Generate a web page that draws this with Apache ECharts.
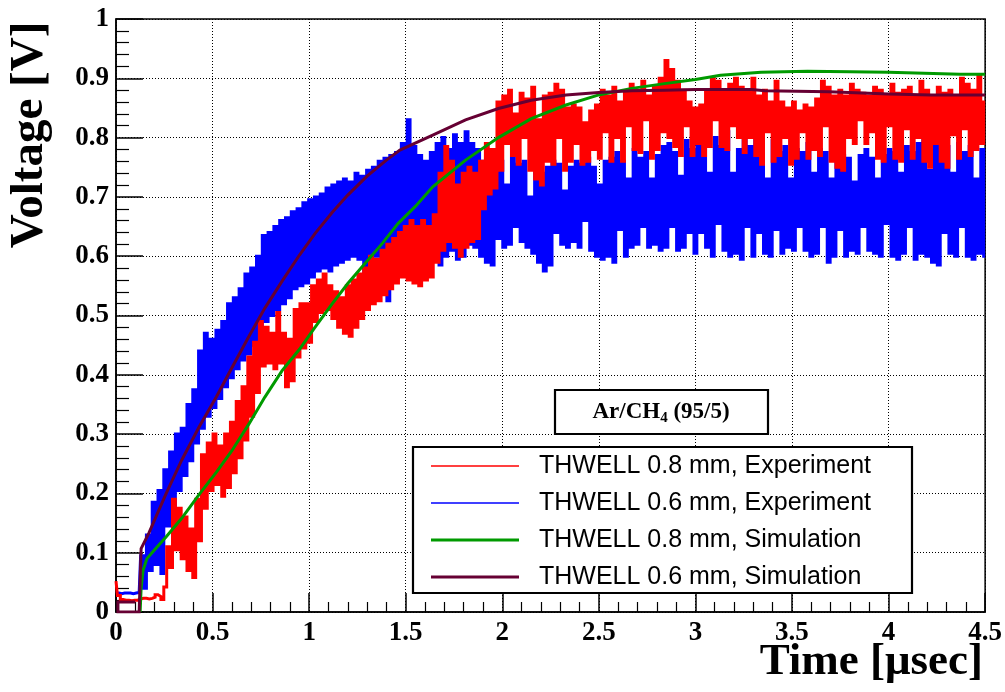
<!DOCTYPE html>
<html>
<head>
<meta charset="utf-8">
<title>THWELL signal</title>
<script src="https://cdn.jsdelivr.net/npm/echarts@6/dist/echarts.min.js"></script>
<style>
  html, body { margin: 0; padding: 0; background: #fff; }
  #chart { width: 1005px; height: 692px; }
</style>
</head>
<body>
<div id="chart"></div>
<script>
// Oscilloscope traces, sampled every SAMPLE_STEP microseconds, values in mV
const SAMPLE_STEP = 0.015;

const exp08mV = [
  52,28,21,20,20,19,20,20,22,23,
  23,22,23,25,29,26,21,42,110,75,
  190,105,175,90,160,70,140,58,190,120,
  265,175,285,205,300,215,280,195,300,210,
  320,235,355,260,380,290,430,330,455,370,
  490,415,480,420,470,410,505,420,470,380,
  460,390,510,430,520,445,520,455,550,490,
  560,505,570,510,550,495,540,480,530,470,
  550,465,560,480,570,495,580,510,600,520,
  595,525,610,535,620,545,630,555,640,565,
  650,560,660,555,650,550,660,560,650,565,
  670,590,740,610,785,625,760,615,720,600,
  740,615,750,625,740,630,760,680,790,705,
  780,715,860,745,870,790,880,770,840,755,
  875,800,865,745,885,730,830,720,870,760,
  875,755,890,800,880,745,850,760,855,790,
  850,755,825,760,845,780,855,765,880,810,
  870,760,885,800,860,760,875,820,890,780,
  880,775,895,830,870,765,885,780,900,810,
  930,800,915,785,895,770,880,820,860,770,
  850,790,855,770,880,785,900,830,895,785,
  880,780,890,820,900,800,885,775,880,800,
  900,770,870,755,880,810,860,760,895,770,
  860,800,850,755,860,765,845,810,855,765,
  850,780,865,770,895,820,885,760,870,750,
  880,745,870,800,890,790,880,830,875,790,
  870,810,885,765,880,760,870,820,890,765,
  875,760,880,815,885,765,870,800,895,760,
  880,750,870,790,885,760,875,750,880,805,
  870,765,900,815,890,770,880,780,905,790,
  860
];

const exp06mV = [
  32,32,31,32,32,32,31,32,33,95,
  40,130,70,185,80,205,65,240,145,270,
  180,300,205,310,230,350,255,375,285,440,
  310,470,330,460,345,475,360,490,380,520,
  395,530,410,545,425,570,435,580,450,600,
  470,635,490,640,500,650,510,660,520,665,
  530,675,545,680,550,690,555,695,565,700,
  575,705,580,715,575,720,585,725,590,730,
  595,725,600,740,595,735,570,745,595,750,
  600,760,590,765,525,770,600,775,605,790,
  600,830,610,785,595,770,600,760,590,775,
  605,790,585,800,600,780,610,805,595,790,
  600,810,620,790,615,780,600,760,590,755,
  585,745,630,760,615,720,620,765,650,755,
  625,760,615,700,605,750,590,740,575,750,
  585,760,640,755,620,710,615,750,625,760,
  615,755,660,765,610,750,600,720,595,760,
  600,765,590,775,645,760,600,730,615,780,
  620,765,650,775,615,730,620,770,610,785,
  615,790,650,775,610,735,615,795,640,780,
  605,800,640,815,615,740,600,800,655,785,
  610,810,600,740,605,780,595,805,650,785,
  600,800,640,790,605,730,600,795,645,775,
  605,785,615,730,610,780,650,775,610,790,
  600,740,605,780,650,775,590,730,600,780,
  645,770,600,765,610,725,605,770,650,780,
  610,765,605,730,600,770,655,780,600,775,
  595,740,605,785,650,775,595,790,605,805,
  600,745,590,800,585,790,640,785,605,740,
  600,790,650,775,600,785,595,730,605,780,
  600
];

// Simulated pulses (time in microseconds, voltage in V)
const simTime08 = [0.125,0.13,0.14,0.16,0.2,0.26,0.34,0.43,0.52,0.6,0.69,0.77,0.86,0.95,1.03,1.12,1.2,1.29,1.38,1.46,1.55,1.64,1.81,1.98,2.15,2.33,2.5,2.67,2.84,3.0,3.13,3.34,3.58,3.8,4.0,4.37,4.5];
const simV08    = [0,0.04,0.07,0.09,0.105,0.127,0.158,0.198,0.236,0.272,0.318,0.362,0.407,0.443,0.48,0.52,0.554,0.588,0.622,0.655,0.684,0.717,0.762,0.8,0.832,0.855,0.872,0.883,0.891,0.898,0.905,0.91,0.912,0.911,0.91,0.907,0.907];

const simTime06 = [0.1,0.01,0.01,0.12,0.13,0.17,0.26,0.34,0.43,0.52,0.6,0.69,0.77,0.86,0.95,1.03,1.12,1.2,1.3,1.4,1.47,1.64,1.81,1.98,2.15,2.33,2.5,2.67,2.84,3.0,3.29,3.36,3.69,4.0,4.22,4.5];
const simV06    = [0.017,0.017,0,0,0.107,0.133,0.2,0.256,0.312,0.363,0.412,0.466,0.512,0.558,0.602,0.638,0.674,0.703,0.735,0.762,0.779,0.804,0.83,0.849,0.863,0.872,0.876,0.879,0.88,0.881,0.881,0.879,0.8775,0.8735,0.872,0.872];

const seriesNames = [
  'THWELL 0.8 mm, Experiment',
  'THWELL 0.6 mm, Experiment',
  'THWELL 0.8 mm, Simulation',
  'THWELL 0.6 mm, Simulation'
];
const seriesColors = ['#ff0000', '#0000ff', '#009a00', '#660033'];

const xAxisTitle = 'Time [\u03bcsec]';
const yAxisTitle = 'Voltage [V]';

const toTrace = mv => mv.map((v, i) => [+(i * SAMPLE_STEP).toFixed(3), v / 1000]);
const zipXY = (xs, ys) => xs.map((x, i) => [x, ys[i]]);

const SERIF = '"Liberation Serif", "Times New Roman", serif';
const SANS = '"Liberation Sans", Arial, Helvetica, sans-serif';

const chart = echarts.init(document.getElementById('chart'), null, { renderer: 'canvas' });

const dotted = { color: '#000', width: 1, type: [1, 2] };

const lineSeries = (idx, data, width, step) => ({
  name: seriesNames[idx],
  type: 'line',
  data: data,
  step: step || false,
  symbol: 'none',
  showSymbol: false,
  animation: false,
  clip: true,
  color: seriesColors[idx],
  lineStyle: { color: seriesColors[idx], width: width, join: 'miter', cap: 'butt' },
  emphasis: { disabled: true }
});

// thin bar used as the legend line sample (aspect ratio kept by the legend)
const legendBar = h => 'path://M0,0h88v' + h + 'h-88z';

chart.setOption({
  backgroundColor: '#fff',
  animation: false,
  grid: {
    left: 116, right: 17, top: 19, bottom: 80,
    show: true, borderColor: '#000', borderWidth: 1.5, backgroundColor: 'transparent'
  },
  xAxis: {
    type: 'value', min: 0, max: 4.5, interval: 0.5,
    axisLine: { show: true, onZero: false, lineStyle: { color: '#000', width: 1.5 } },
    axisTick: { show: true, inside: true, length: 19, lineStyle: { color: '#000', width: 1.5 } },
    minorTick: { show: true, splitNumber: 5, length: 10, lineStyle: { color: '#000', width: 1.2 } },
    axisLabel: { color: '#000', fontFamily: SERIF, fontWeight: 'bold', fontSize: 27, margin: 8 },
    splitLine: { show: true, lineStyle: dotted }
  },
  yAxis: {
    type: 'value', min: 0, max: 1, interval: 0.1,
    axisLine: { show: true, onZero: false, lineStyle: { color: '#000', width: 1.5 } },
    axisTick: { show: true, inside: true, length: 27, lineStyle: { color: '#000', width: 1.5 } },
    minorTick: { show: true, splitNumber: 5, length: 13, lineStyle: { color: '#000', width: 1.2 } },
    axisLabel: { color: '#000', fontFamily: SERIF, fontWeight: 'bold', fontSize: 27, margin: 7 },
    splitLine: { show: true, lineStyle: dotted }
  },
  legend: {
    orient: 'vertical',
    left: 431, top: 453,
    z: 20,
    padding: 0,
    itemWidth: 88, itemHeight: 14, itemGap: 11,
    selectedMode: false,
    symbolKeepAspect: true,
    textStyle: { color: '#000', fontFamily: SANS, fontSize: 25, lineHeight: 26, padding: [0, 0, 0, 15] },
    data: [
      { name: seriesNames[0], icon: legendBar(1.3) },
      { name: seriesNames[1], icon: legendBar(1.3) },
      { name: seriesNames[2], icon: legendBar(3) },
      { name: seriesNames[3], icon: legendBar(3) }
    ]
  },
  graphic: [
    {
      type: 'rect', z: 10,
      shape: { x: 413, y: 447, width: 499, height: 146 },
      style: { fill: '#fff', stroke: '#000', lineWidth: 2.2 }
    },
    {
      type: 'rect', z: 10,
      shape: { x: 555, y: 390, width: 213, height: 44 },
      style: { fill: '#fff', stroke: '#000', lineWidth: 2.2 }
    },
    {
      type: 'text', z: 11, x: 661, y: 412,
      style: {
        text: '{a|Ar/CH}{s|4}{a| (95/5)}',
        align: 'center', verticalAlign: 'middle',
        rich: {
          a: { fontFamily: SERIF, fontWeight: 'bold', fontSize: 23, fill: '#000', lineHeight: 26 },
          s: { fontFamily: SERIF, fontWeight: 'bold', fontSize: 15, fill: '#000', lineHeight: 26, padding: [12, 0, 0, 0] }
        }
      }
    },
    {
      type: 'text', z: 11, x: 30, y: 135, rotation: Math.PI / 2,
      style: {
        text: yAxisTitle, align: 'center', verticalAlign: 'middle',
        fontFamily: SERIF, fontWeight: 'bold', fontSize: 47, fill: '#000'
      }
    },
    {
      type: 'text', z: 11, x: 983, y: 662,
      style: {
        text: xAxisTitle, align: 'right', verticalAlign: 'middle',
        fontFamily: SERIF, fontWeight: 'bold', fontSize: 45, fill: '#000'
      }
    }
  ],
  // 0.6 mm trace drawn first so the 0.8 mm trace sits on top of it
  series: [
    lineSeries(1, toTrace(exp06mV), 3, 'middle'),
    lineSeries(0, toTrace(exp08mV), 3, 'middle'),
    lineSeries(2, zipXY(simTime08, simV08), 3),
    lineSeries(3, zipXY(simTime06, simV06), 3)
  ]
});
</script>
</body>
</html>
